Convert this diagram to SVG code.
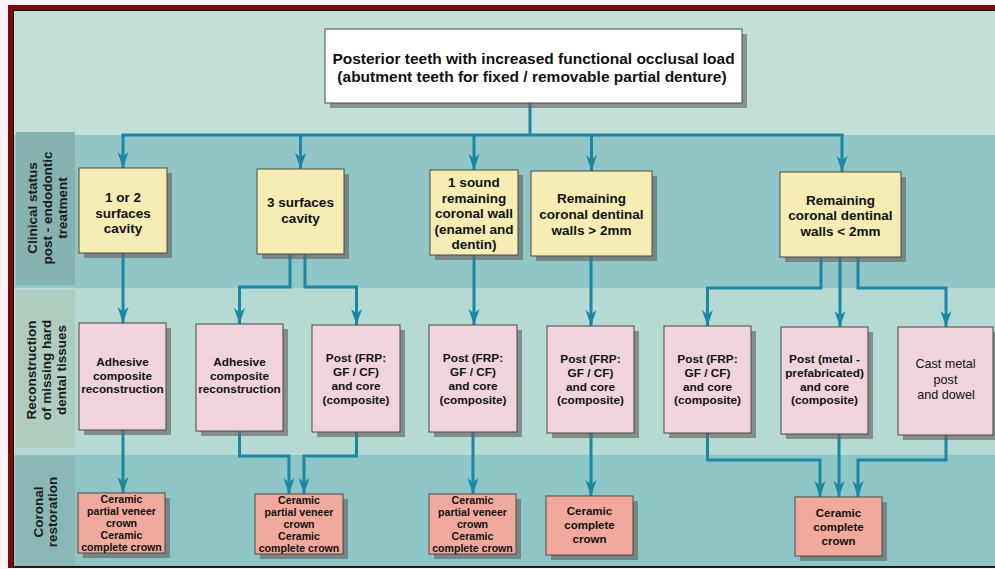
<svg xmlns="http://www.w3.org/2000/svg" width="995" height="569" viewBox="0 0 995 569">
  <style>
    .t { font-family: "Liberation Sans", Arial, sans-serif; font-weight: bold; fill: #111; text-anchor: middle; }
    .title { font-size: 15.5px; }
    .y { font-size: 13.5px; }
    .p { font-size: 11.8px; }
    .s { font-size: 10.6px; }
    .s2 { font-size: 11.5px; }
    .side { font-size: 13.5px; fill: #1a1a1a; }
    .reg { font-weight: normal; font-size: 12.6px; }
    .box { stroke: #4a4a40; stroke-width: 1; }
    .shadow { fill: #666666; opacity: 0.65; }
    .yellow { fill: #f6ecb4; }
    .pink { fill: #f0d3dc; }
    .salmon { fill: #f0a99c; }
    .white { fill: #ffffff; }
    .conn path { fill: none; stroke: #1a87a5; stroke-width: 3; marker-end: url(#arrow); }
    .conn path.plain { marker-end: none; }
  </style>
  <defs>
    <marker id="arrow" markerUnits="userSpaceOnUse" viewBox="-17 -7 18 14" refX="0" refY="0" markerWidth="18" markerHeight="14" orient="auto">
      <path d="M0,0 L-16,-5.5 L-11.5,0 L-16,5.5 Z" fill="#1a87a5"/>
    </marker>
  </defs>

  <!-- frame -->
  <rect x="0" y="0" width="995" height="569" fill="#fcf3f8"/>
  <rect x="8" y="5" width="1000" height="563" fill="#7a0b0b"/>
  <rect x="13" y="10" width="995" height="557.5" fill="#141414"/>

  <!-- background bands -->
  <rect x="14" y="11" width="981" height="124" fill="#c2dfd8"/>
  <rect x="14" y="135" width="981" height="153" fill="#92c5c6"/>
  <rect x="14" y="288" width="981" height="167" fill="#b5dad3"/>
  <rect x="14" y="455" width="981" height="111" fill="#8ec5c7"/>

  <!-- row label columns -->
  <rect x="16" y="132" width="59" height="153" fill="#86b2af"/>
  <rect x="16" y="290" width="59" height="158" fill="#aecdbf"/>
  <rect x="16" y="456" width="59" height="110" fill="#8ab8b6"/>

  <g id="label-clinical">
    <text class="t side" transform="translate(37,208) rotate(-90)">Clinical status</text>
    <text class="t side" transform="translate(52,208) rotate(-90)">post - endodontic</text>
    <text class="t side" transform="translate(67,208) rotate(-90)">treatment</text>
  </g>
  <g id="label-reconstruction">
    <text class="t side" transform="translate(35.5,370) rotate(-90)">Reconstruction</text>
    <text class="t side" transform="translate(50.5,370) rotate(-90)">of missing hard</text>
    <text class="t side" transform="translate(65.5,370) rotate(-90)">dental tissues</text>
  </g>
  <g id="label-coronal">
    <text class="t side" transform="translate(42.5,512) rotate(-90)">Coronal</text>
    <text class="t side" transform="translate(57,512) rotate(-90)">restoration</text>
  </g>

  <!-- connectors -->
  <g id="connectors" class="conn">
    <path class="plain" d="M530,103 V135"/>
    <path class="plain" d="M121.5,135 H843.5"/>
    <path d="M123,135 V168"/>
    <path d="M300.5,135 V169"/>
    <path d="M474,135 V170"/>
    <path d="M591.5,135 V171"/>
    <path d="M842,135 V172"/>

    <path d="M123,253 V323"/>
    <path d="M290,254 V287 H239.5 V324"/>
    <path d="M305,254 V287 H356.5 V325"/>
    <path d="M474,255 V325"/>
    <path d="M591,256 V326"/>
    <path d="M821,257 V288 H707.5 V326"/>
    <path d="M840,257 V327"/>
    <path d="M858,257 V288 H946 V327"/>

    <path d="M123,430 V493"/>
    <path d="M239.5,431 V456 H289 V494"/>
    <path d="M356.5,432 V456 H304 V494"/>
    <path d="M473,432 V494"/>
    <path d="M591,433 V496"/>
    <path d="M707.5,433 V460 H820 V497"/>
    <path d="M839,434 V497"/>
    <path d="M946,435 V460 H858 V497"/>
  </g>

  <!-- top node -->
  <g id="n-top">
    <rect class="shadow" x="330" y="34" width="417" height="74"/>
    <rect class="box white" x="325" y="29" width="417" height="74"/>
    <text class="t title" x="533.5" y="64">Posterior teeth with increased functional occlusal load</text>
    <text class="t title" x="532" y="82">(abutment teeth for fixed / removable partial denture)</text>
  </g>

  <!-- clinical status row -->
  <g id="n-c1">
    <rect class="shadow" x="84" y="173" width="88" height="85"/>
    <rect class="box yellow" x="79" y="168" width="88" height="85"/>
    <text class="t y" x="123" y="201.5">1 or 2</text>
    <text class="t y" x="123" y="217.5">surfaces</text>
    <text class="t y" x="123" y="233">cavity</text>
  </g>
  <g id="n-c2">
    <rect class="shadow" x="262" y="174" width="87" height="85"/>
    <rect class="box yellow" x="257" y="169" width="87" height="85"/>
    <text class="t y" x="300.5" y="206.5">3 surfaces</text>
    <text class="t y" x="300.5" y="222.5">cavity</text>
  </g>
  <g id="n-c3">
    <rect class="shadow" x="435" y="175" width="88" height="85"/>
    <rect class="box yellow" x="430" y="170" width="88" height="85"/>
    <text class="t y" x="474" y="187">1 sound</text>
    <text class="t y" x="474" y="202.5">remaining</text>
    <text class="t y" x="474" y="218">coronal wall</text>
    <text class="t y" x="474" y="233.5">(enamel and</text>
    <text class="t y" x="474" y="249">dentin)</text>
  </g>
  <g id="n-c4">
    <rect class="shadow" x="536" y="176" width="121" height="85"/>
    <rect class="box yellow" x="531" y="171" width="121" height="85"/>
    <text class="t y" x="591.5" y="203">Remaining</text>
    <text class="t y" x="591.5" y="219">coronal dentinal</text>
    <text class="t y" x="591.5" y="234.5">walls &gt; 2mm</text>
  </g>
  <g id="n-c5">
    <rect class="shadow" x="785" y="177" width="121" height="85"/>
    <rect class="box yellow" x="780" y="172" width="121" height="85"/>
    <text class="t y" x="840.5" y="204.5">Remaining</text>
    <text class="t y" x="840.5" y="220">coronal dentinal</text>
    <text class="t y" x="840.5" y="235.5">walls &lt; 2mm</text>
  </g>

  <!-- reconstruction row -->
  <g id="n-r1">
    <rect class="shadow" x="84" y="328" width="87" height="107"/>
    <rect class="box pink" x="79" y="323" width="87" height="107"/>
    <text class="t p" x="122.5" y="365.5">Adhesive</text>
    <text class="t p" x="122.5" y="379.5">composite</text>
    <text class="t p" x="122.5" y="393">reconstruction</text>
  </g>
  <g id="n-r2">
    <rect class="shadow" x="201" y="329" width="87" height="107"/>
    <rect class="box pink" x="196" y="324" width="87" height="107"/>
    <text class="t p" x="239.5" y="365.5">Adhesive</text>
    <text class="t p" x="239.5" y="379.5">composite</text>
    <text class="t p" x="239.5" y="393">reconstruction</text>
  </g>
  <g id="n-r3">
    <rect class="shadow" x="317" y="330" width="88" height="107"/>
    <rect class="box pink" x="312" y="325" width="88" height="107"/>
    <text class="t p" x="356" y="362">Post (FRP:</text>
    <text class="t p" x="356" y="376">GF / CF)</text>
    <text class="t p" x="356" y="390">and core</text>
    <text class="t p" x="356" y="403.5">(composite)</text>
  </g>
  <g id="n-r4">
    <rect class="shadow" x="434" y="330" width="88" height="107"/>
    <rect class="box pink" x="429" y="325" width="88" height="107"/>
    <text class="t p" x="473" y="362">Post (FRP:</text>
    <text class="t p" x="473" y="376">GF / CF)</text>
    <text class="t p" x="473" y="390">and core</text>
    <text class="t p" x="473" y="403.5">(composite)</text>
  </g>
  <g id="n-r5">
    <rect class="shadow" x="552" y="331" width="87" height="107"/>
    <rect class="box pink" x="547" y="326" width="87" height="107"/>
    <text class="t p" x="590.5" y="362.5">Post (FRP:</text>
    <text class="t p" x="590.5" y="376.5">GF / CF)</text>
    <text class="t p" x="590.5" y="390.5">and core</text>
    <text class="t p" x="590.5" y="404">(composite)</text>
  </g>
  <g id="n-r6">
    <rect class="shadow" x="669" y="331" width="87" height="107"/>
    <rect class="box pink" x="664" y="326" width="87" height="107"/>
    <text class="t p" x="707.5" y="362.5">Post (FRP:</text>
    <text class="t p" x="707.5" y="376.5">GF / CF)</text>
    <text class="t p" x="707.5" y="390.5">and core</text>
    <text class="t p" x="707.5" y="404">(composite)</text>
  </g>
  <g id="n-r7">
    <rect class="shadow" x="786" y="332" width="87" height="107"/>
    <rect class="box pink" x="781" y="327" width="87" height="107"/>
    <text class="t p" x="824.5" y="362.5">Post (metal -</text>
    <text class="t p" x="824.5" y="376.5">prefabricated)</text>
    <text class="t p" x="824.5" y="390.5">and core</text>
    <text class="t p" x="824.5" y="404">(composite)</text>
  </g>
  <g id="n-r8">
    <rect class="shadow" x="903" y="332" width="95" height="108"/>
    <rect class="box pink" x="898" y="327" width="95" height="108"/>
    <text class="t reg" x="945.5" y="368">Cast metal</text>
    <text class="t reg" x="945.5" y="383.5">post</text>
    <text class="t reg" x="946" y="399">and dowel</text>
  </g>

  <!-- coronal restoration row -->
  <g id="n-k1">
    <rect class="shadow" x="83" y="498" width="87" height="60"/>
    <rect class="box salmon" x="78" y="493" width="87" height="60"/>
    <text class="t s" x="121.5" y="502.5">Ceramic</text>
    <text class="t s" x="121.5" y="514.5">partial veneer</text>
    <text class="t s" x="121.5" y="526.5">crown</text>
    <text class="t s" x="121.5" y="538.5">Ceramic</text>
    <text class="t s" x="121.5" y="550.5">complete crown</text>
  </g>
  <g id="n-k2">
    <rect class="shadow" x="260" y="499" width="88" height="60"/>
    <rect class="box salmon" x="255" y="494" width="88" height="60"/>
    <text class="t s" x="299" y="503.5">Ceramic</text>
    <text class="t s" x="299" y="515.5">partial veneer</text>
    <text class="t s" x="299" y="527.5">crown</text>
    <text class="t s" x="299" y="539.5">Ceramic</text>
    <text class="t s" x="299" y="551.5">complete crown</text>
  </g>
  <g id="n-k3">
    <rect class="shadow" x="434" y="499" width="87" height="60"/>
    <rect class="box salmon" x="429" y="494" width="87" height="60"/>
    <text class="t s" x="472.5" y="503.5">Ceramic</text>
    <text class="t s" x="472.5" y="515.5">partial veneer</text>
    <text class="t s" x="472.5" y="527.5">crown</text>
    <text class="t s" x="472.5" y="539.5">Ceramic</text>
    <text class="t s" x="472.5" y="551.5">complete crown</text>
  </g>
  <g id="n-k4">
    <rect class="shadow" x="551" y="501" width="87" height="59"/>
    <rect class="box salmon" x="546" y="496" width="87" height="59"/>
    <text class="t s2" x="589.5" y="515">Ceramic</text>
    <text class="t s2" x="589.5" y="529">complete</text>
    <text class="t s2" x="589.5" y="543">crown</text>
  </g>
  <g id="n-k5">
    <rect class="shadow" x="800" y="502" width="87" height="59"/>
    <rect class="box salmon" x="795" y="497" width="87" height="59"/>
    <text class="t s2" x="838.5" y="516.5">Ceramic</text>
    <text class="t s2" x="838.5" y="530.5">complete</text>
    <text class="t s2" x="838.5" y="544.5">crown</text>
  </g>
</svg>
